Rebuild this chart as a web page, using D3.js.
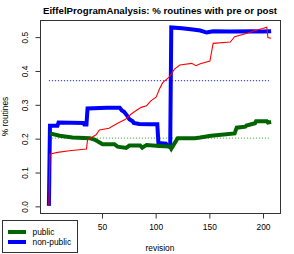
<!DOCTYPE html>
<meta charset="utf-8">
<style>
body { margin: 0; background: #fff; }
svg text { font-family: "Liberation Sans", Arial, sans-serif; fill: #000; }
</style>
<svg width="294" height="254"></svg>
<script src="https://cdn.jsdelivr.net/npm/d3@7"></script>
<script>

// values: [revision, fraction]
var nonPublic = [[1,0],[2,0.237],[9,0.237],[10,0.246],[33,0.245],[34,0.240],[36,0.240],[37,0.288],[55,0.290],[67,0.290],
  [69,0.282],[71,0.278],[74,0.266],[76,0.256],[79,0.250],[80,0.245],[85,0.242],[95,0.241],[102,0.241],[103,0.186],
  [110,0.184],[111,0.178],[114,0.174],[115,0.527],[125,0.525],[135,0.521],[142,0.518],[148,0.512],[154,0.516],
  [170,0.515],[190,0.516],[200,0.515],[208,0.516]];
var publicR = [[2,0.214],[11,0.207],[23,0.202],[39,0.200],[44,0.195],[51,0.182],[62,0.182],[65,0.175],[73,0.171],
  [76,0.178],[86,0.178],[88,0.172],[92,0.180],[104,0.177],[114,0.175],[115,0.169],[121,0.200],[137,0.200],
  [142,0.202],[152,0.207],[174,0.214],[176,0.231],[184,0.234],[185,0.237],[193,0.244],[194,0.250],[204,0.250],
  [205,0.246],[208,0.248]];
var allRoutines = [[1,0],[2,0.153],[9,0.158],[20,0.163],[36,0.168],[37,0.195],[45,0.210],[48,0.224],[57,0.229],
  [65,0.244],[72,0.255],[78,0.272],[83,0.283],[87,0.291],[92,0.296],[96,0.310],[101,0.322],[104,0.345],
  [107,0.364],[113,0.380],[118,0.404],[123,0.416],[134,0.421],[138,0.414],[142,0.420],[151,0.428],[154,0.480],
  [170,0.484],[174,0.500],[185,0.509],[194,0.519],[200,0.524],[204,0.528],[205,0.497],[208,0.495]];
var nonPublicMean = 0.37, publicMean = 0.2;
var xTicks = [50, 100, 150, 200];
var yTicks = [0, 0.1, 0.2, 0.3, 0.4, 0.5];
var legendNames = ["public", "non-public"];

var svg = d3.select("svg");
var pl = 40, pr = 280, pt = 20, pb = 213;

var x = d3.scaleLinear().domain([-7.28, 216.28]).range([pl, pr]);
var y = d3.scaleLinear().domain([-0.0211, 0.5491]).range([pb, pt]);

var line = d3.line().x(function(d) { return x(d[0]); }).y(function(d) { return y(d[1]); });

// mean lines (dotted)
function meanLine(v, col) {
  svg.append("line")
      .attr("x1", x(1)).attr("x2", x(206)).attr("y1", y(v)).attr("y2", y(v))
      .attr("stroke", col).attr("stroke-width", 1.2).attr("stroke-dasharray", "1.2,1.8");
}
meanLine(nonPublicMean, "#4a4aff");
meanLine(publicMean, "#6fb96f");

svg.append("path").datum(nonPublic).attr("d", line)
    .attr("fill", "none").attr("stroke", "#0000ff").attr("stroke-width", 4);
svg.append("path").datum(publicR).attr("d", line)
    .attr("fill", "none").attr("stroke", "#006400").attr("stroke-width", 4);
svg.append("path").datum(allRoutines).attr("d", line)
    .attr("fill", "none").attr("stroke", "#ff0000").attr("stroke-width", 1.1);

// frame
svg.append("rect").attr("x", pl + 0.5).attr("y", pt + 0.5)
    .attr("width", pr - pl).attr("height", pb - pt)
    .attr("fill", "none").attr("stroke", "#333");

var xAxis = svg.append("g")
    .attr("transform", "translate(0.5," + (pb + 0.5) + ")")
    .call(d3.axisBottom(x).tickValues(xTicks).tickSize(5).tickPadding(6).tickFormat(d3.format("d")));
xAxis.select(".domain").remove();
xAxis.selectAll("text").attr("font-size", 8.4).attr("font-family", "Liberation Sans, Arial, sans-serif");
xAxis.selectAll("line").attr("stroke", "#333");

var yAxis = svg.append("g")
    .attr("transform", "translate(" + (pl + 0.5) + ",0.5)")
    .call(d3.axisLeft(y).tickValues(yTicks).tickSize(5).tickFormat(d3.format(".1f")));
yAxis.select(".domain").remove();
yAxis.selectAll("line").attr("stroke", "#333");
yAxis.selectAll("text")
    .attr("font-size", 8.4).attr("font-family", "Liberation Sans, Arial, sans-serif")
    .attr("text-anchor", "middle").attr("x", 0).attr("dy", 0)
    .attr("transform", "translate(-13,0) rotate(-90)");

svg.append("text").attr("x", (pl + pr) / 2).attr("y", 13.5)
    .attr("text-anchor", "middle").attr("font-weight", "bold").attr("font-size", 9.7)
    .text("EiffelProgramAnalysis: % routines with pre or post");

svg.append("text").attr("x", (pl + pr) / 2).attr("y", 251)
    .attr("text-anchor", "middle").attr("font-size", 8.4).text("revision");

svg.append("text").attr("transform", "translate(8," + ((pt + pb) / 2) + ") rotate(-90)")
    .attr("text-anchor", "middle").attr("font-size", 8.4).text("% routines");

// legend
var lg = svg.append("g");
lg.append("rect").attr("x", 2.5).attr("y", 220.5).attr("width", 75).attr("height", 32)
    .attr("fill", "#fff").attr("stroke", "#333");
var legendColors = ["#006400", "#0000ff"];
legendNames.forEach(function(n, i) {
  lg.append("line").attr("x1", 8).attr("x2", 26).attr("y1", 232 + i * 10).attr("y2", 232 + i * 10)
      .attr("stroke", legendColors[i]).attr("stroke-width", 4);
  lg.append("text").attr("x", 32.5).attr("y", 235 + i * 10).attr("font-size", 8.4).text(n);
});

</script>
